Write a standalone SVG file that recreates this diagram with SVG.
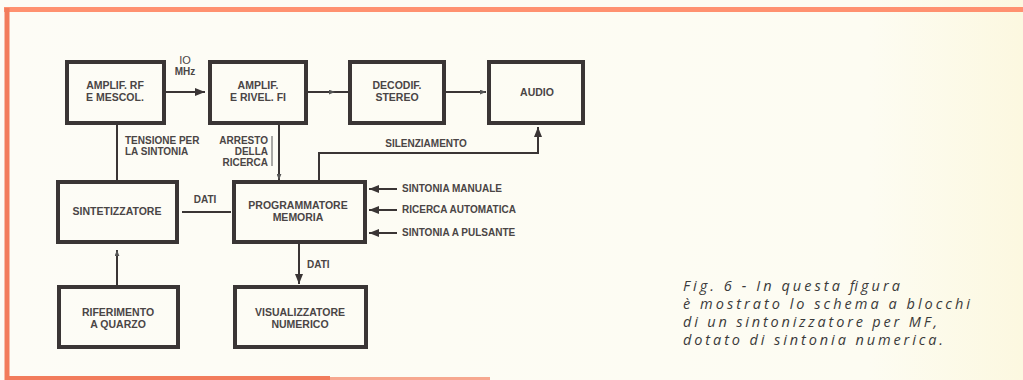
<svg xmlns="http://www.w3.org/2000/svg" width="1023" height="380" viewBox="0 0 1023 380">
<defs>
<linearGradient id="bg" x1="0" y1="0" x2="1" y2="0">
<stop offset="0" stop-color="#fdfcf6"/>
<stop offset="0.85" stop-color="#fdfcf2"/>
<stop offset="1" stop-color="#fcf8e0"/>
</linearGradient>
<marker id="ah" viewBox="0 0 10 8" refX="10" refY="4" markerWidth="10" markerHeight="8" markerUnits="userSpaceOnUse" orient="auto">
<path d="M0,0 L10,4 L0,8 Z" fill="#3a3535"/>
</marker>
<marker id="ahs" viewBox="0 0 10 8" refX="10" refY="4" markerWidth="6" markerHeight="5" markerUnits="userSpaceOnUse" orient="auto">
<path d="M0,0 L10,4 L0,8 Z" fill="#555"/>
</marker>
</defs>
<style>
.box{fill:none;stroke:#3a3535;stroke-width:4}
.bt{font-family:"Liberation Sans",Arial,sans-serif;font-weight:bold;font-size:10.5px;fill:#4a4545;text-anchor:middle}
.lb{font-family:"Liberation Sans",Arial,sans-serif;font-weight:bold;font-size:10px;fill:#4a4545}
.ln{fill:none;stroke:#3a3535;stroke-width:2}
.cap{font-family:"Open Sans","Liberation Sans",sans-serif;font-style:italic;font-size:14.5px;fill:#3a3a3a}
</style>
<rect x="0" y="0" width="1023" height="380" fill="url(#bg)"/>
<g id="frame">
<line x1="4" y1="9.5" x2="1023" y2="9.5" stroke="#ff9170" stroke-width="5"/>
<line x1="7" y1="8" x2="7" y2="380" stroke="#f27c5c" stroke-width="5"/>
<line x1="5" y1="378" x2="330" y2="378" stroke="#f27c5c" stroke-width="4"/>
<line x1="330" y1="378.5" x2="490" y2="378.5" stroke="#f7a890" stroke-width="3"/>
</g>
<g id="connectors">
<line class="ln" x1="166" y1="92" x2="205" y2="92" marker-end="url(#ah)"/>
<line class="ln" x1="308" y1="92" x2="348" y2="92"/>
<path d="M326,92 L335,92" stroke="#3a3535" stroke-width="2" marker-end="url(#ahs)"/>
<line class="ln" x1="446" y1="92" x2="486" y2="92" marker-end="url(#ahs)"/>
<line class="ln" x1="117" y1="125" x2="117" y2="180"/>
<line class="ln" x1="279" y1="125" x2="279" y2="180" marker-end="url(#ahs)"/>
<line x1="272" y1="136" x2="272" y2="166" stroke="#555" stroke-width="1"/>
<path class="ln" d="M319,180 L319,153 L538,153 L538,127" marker-end="url(#ah)"/>
<line class="ln" x1="182" y1="212" x2="231" y2="212"/>
<line class="ln" x1="397" y1="189" x2="369" y2="189" marker-end="url(#ah)"/>
<line class="ln" x1="397" y1="210" x2="369" y2="210" marker-end="url(#ah)"/>
<line class="ln" x1="397" y1="233" x2="369" y2="233" marker-end="url(#ah)"/>
<line class="ln" x1="299" y1="244" x2="299" y2="284" marker-end="url(#ah)"/>
<line class="ln" x1="117" y1="285" x2="117" y2="250" marker-end="url(#ahs)"/>
</g>
<g id="labels">
<text x="185" y="64" font-family="Liberation Sans,Arial,sans-serif" font-size="11" fill="#4a4545" text-anchor="middle">IO</text>
<text x="185" y="75" class="lb" text-anchor="middle" font-weight="normal">MHz</text>
<text x="125" y="144" class="lb">TENSIONE PER</text>
<text x="125" y="155" class="lb">LA SINTONIA</text>
<text x="268" y="144" class="lb" text-anchor="end">ARRESTO</text>
<text x="268" y="155" class="lb" text-anchor="end">DELLA</text>
<text x="268" y="166" class="lb" text-anchor="end">RICERCA</text>
<text x="426" y="147" class="lb" text-anchor="middle">SILENZIAMENTO</text>
<text x="205" y="203" class="lb" text-anchor="middle">DATI</text>
<text x="402" y="192" class="lb">SINTONIA MANUALE</text>
<text x="402" y="213" class="lb">RICERCA AUTOMATICA</text>
<text x="402" y="236" class="lb">SINTONIA A PULSANTE</text>
<text x="307" y="268" class="lb">DATI</text>
</g>
<g id="n-rf"><rect class="box" x="67" y="62" width="97" height="61"/><text class="bt" x="115" y="89">AMPLIF. RF</text><text class="bt" x="115" y="101">E MESCOL.</text></g>
<g id="n-fi"><rect class="box" x="210" y="62" width="96" height="61"/><text class="bt" x="258" y="89">AMPLIF.</text><text class="bt" x="258" y="101">E RIVEL. FI</text></g>
<g id="n-dec"><rect class="box" x="350" y="62" width="94" height="61"/><text class="bt" x="397" y="89">DECODIF.</text><text class="bt" x="397" y="101">STEREO</text></g>
<g id="n-audio"><rect class="box" x="489" y="62" width="94" height="61"/><text class="bt" x="537" y="96">AUDIO</text></g>
<g id="n-sint"><rect class="box" x="58" y="182" width="119" height="60"/><text class="bt" x="117" y="215">SINTETIZZATORE</text></g>
<g id="n-prog"><rect class="box" x="234" y="182" width="131" height="60"/><text class="bt" x="298" y="209">PROGRAMMATORE</text><text class="bt" x="298" y="221">MEMORIA</text></g>
<g id="n-rif"><rect class="box" x="59" y="287" width="119" height="60"/><text class="bt" x="118" y="316">RIFERIMENTO</text><text class="bt" x="118" y="328">A QUARZO</text></g>
<g id="n-vis"><rect class="box" x="235" y="287" width="131" height="60"/><text class="bt" x="300" y="316">VISUALIZZATORE</text><text class="bt" x="300" y="328">NUMERICO</text></g>
<g id="caption">
<text class="cap" x="683" y="291" textLength="217" lengthAdjust="spacing">Fig. 6 - In questa figura</text>
<text class="cap" x="683" y="309" textLength="287" lengthAdjust="spacing">è mostrato lo schema a blocchi</text>
<text class="cap" x="683" y="327" textLength="254" lengthAdjust="spacing">di un sintonizzatore per MF,</text>
<text class="cap" x="683" y="345" textLength="260" lengthAdjust="spacing">dotato di sintonia numerica.</text>
</g>
</svg>
